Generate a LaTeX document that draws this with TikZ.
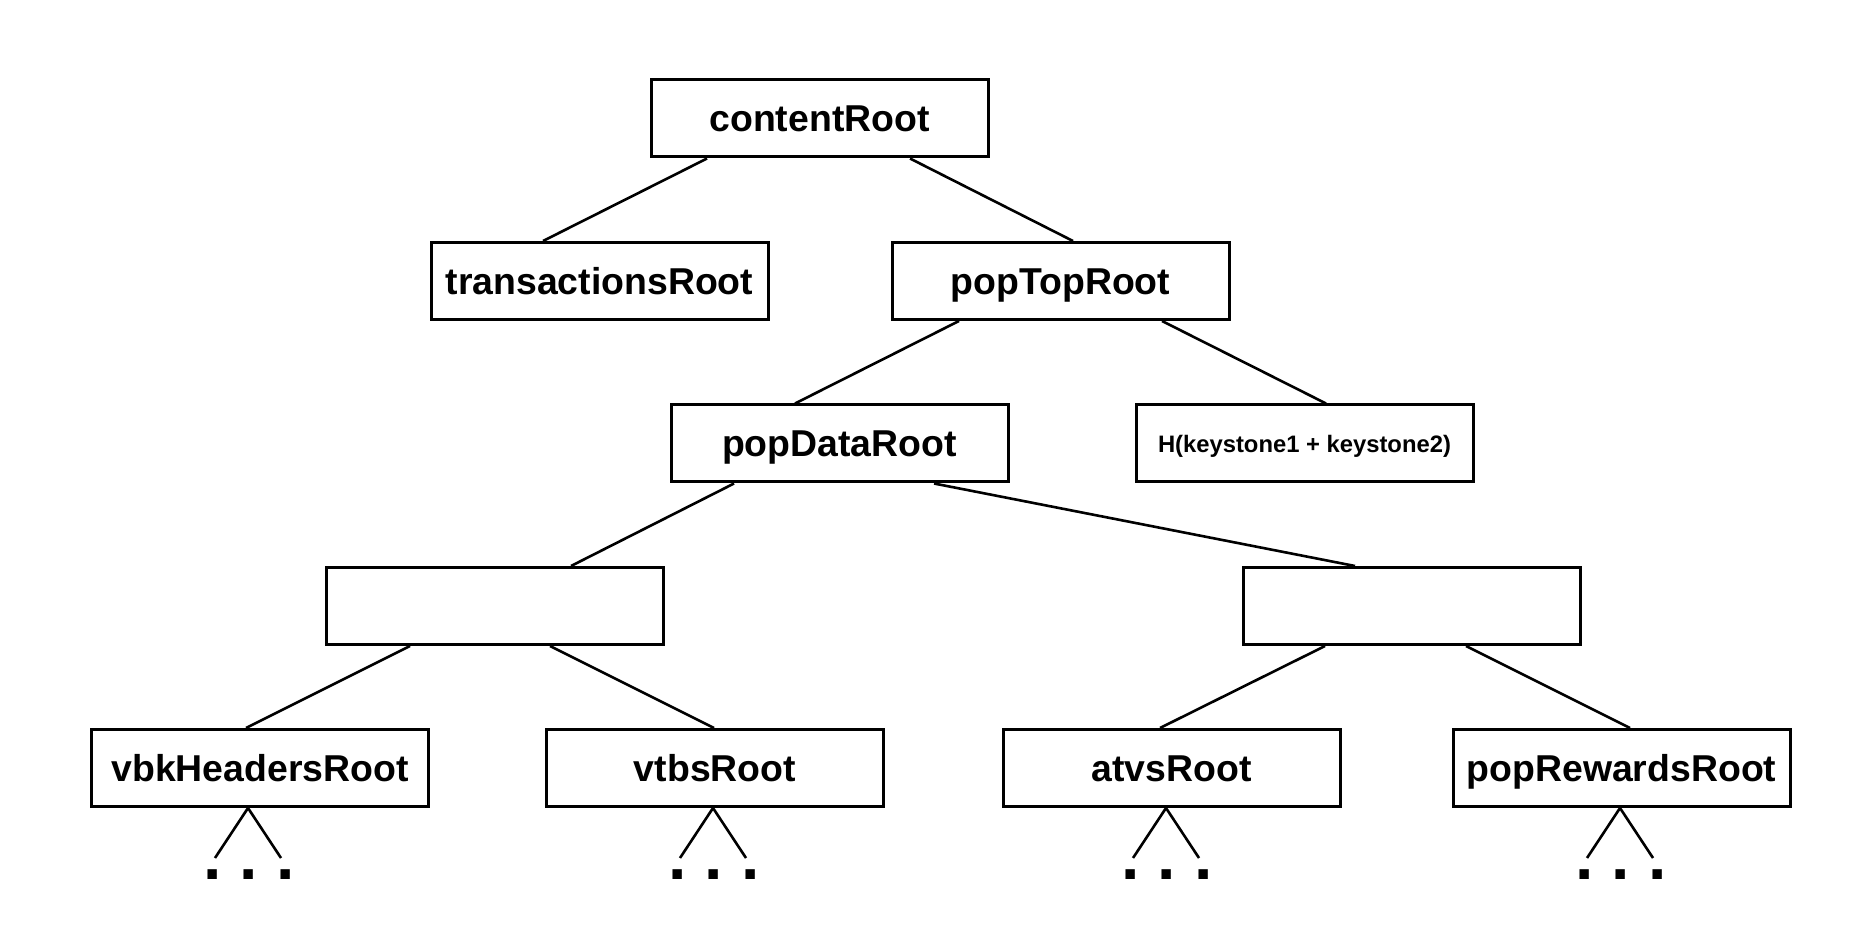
\documentclass[tikz,border=0pt]{standalone}
\usepackage{fontspec}
\setmainfont{Liberation Sans}
\usetikzlibrary{calc}
\begin{document}
\begin{tikzpicture}[x=0.5pt,y=-0.5pt,
  box/.style={draw=black, line width=1.5pt, rectangle, minimum width=168.5pt, minimum height=38.5pt, inner sep=0pt,
    text height=13.4pt, text depth=0pt,
    font=\fontsize{18.7}{22}\selectfont\bfseries},
  smallbox/.style={box, text height=9pt, text depth=0pt, font=\fontsize{11.9}{14}\selectfont\bfseries},
  conn/.style={draw=black, line width=1.3pt},
  dots/.style={anchor=base, inner sep=0pt, font=\fontsize{33}{36}\selectfont\bfseries}
]
\useasboundingbox (0,0) rectangle (1872,940);
\fill[white] (0,0) rectangle (1872,940);

\node[box] (c) at (819.5,118.5) {contentRoot};
\node[box] (t) at (599.5,281) {transactionsRoot};
\node[box] (p) at (1060.5,281) {popTopRoot};
\node[box] (d) at (839.5,443.5) {popDataRoot};
\node[smallbox] (h) at (1304.5,443.5) {H(keystone1 + keystone2)};
\node[box] (l) at (494.5,606) {};
\node[box] (r) at (1411.5,606) {};
\node[box] (vbk) at (260,768) {vbkHeadersRoot};
\node[box] (vtbs) at (715,768) {vtbsRoot};
\node[box] (atvs) at (1171.5,768) {atvsRoot};
\node[box] (pr) at (1621.5,768) {popRewardsRoot};

\draw[conn] ($(c.south)+(-112.5,0)$) -- ($(t.north)+(-56.5,0)$);
\draw[conn] ($(c.south)+(90.5,0)$) -- ($(p.north)+(12.5,0)$);
\draw[conn] ($(p.south)+(-101.5,0)$) -- ($(d.north)+(-44.5,0)$);
\draw[conn] ($(p.south)+(101.5,0)$) -- ($(h.north)+(21.5,0)$);
\draw[conn] ($(d.south)+(-105.5,0)$) -- ($(l.north)+(76.5,0)$);
\draw[conn] ($(d.south)+(94.5,0)$) -- ($(r.north)+(-56.5,0)$);
\draw[conn] ($(l.south)+(-84.5,0)$) -- ($(vbk.north)+(-14,0)$);
\draw[conn] ($(l.south)+(55.5,0)$) -- ($(vtbs.north)+(-1,0)$);
\draw[conn] ($(r.south)+(-86.5,0)$) -- ($(atvs.north)+(-11.5,0)$);
\draw[conn] ($(r.south)+(54.5,0)$) -- ($(pr.north)+(8.5,0)$);

% leaves
\foreach \n/\o in {vbk/-12, vtbs/-2, atvs/-5.5, pr/-1.5} {
  \coordinate (\n-a) at ($(\n.south)+(\o,0)$);
  \coordinate (\n-l) at ($(\n-a)+(-33,50)$);
  \coordinate (\n-r) at ($(\n-a)+(33,50)$);
  \draw[conn] (\n-l) -- (\n-a) -- (\n-r);
  \node[dots] (\n-dots) at ($(\n-a)+(1,71)$) {.\ .\ .};
}
\end{tikzpicture}
\end{document}
